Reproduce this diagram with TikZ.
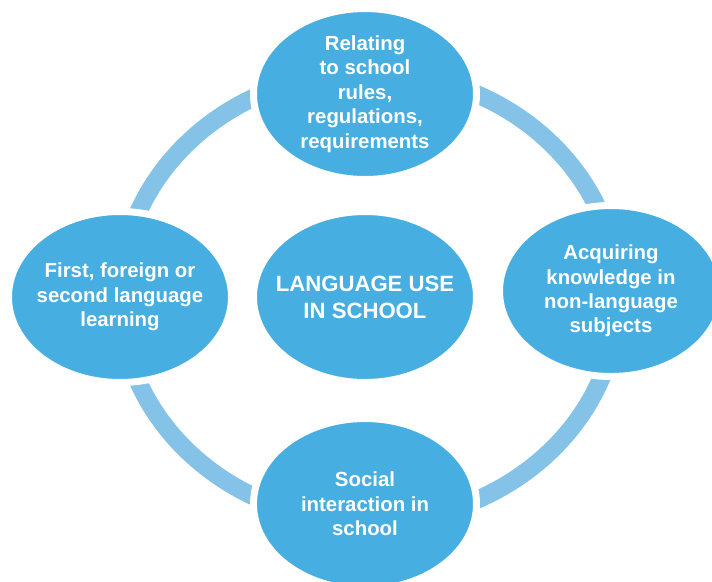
\documentclass[tikz,border=0pt]{standalone}
\usepackage{fontspec}
\setmainfont{Liberation Sans}
\usetikzlibrary{shapes.geometric,backgrounds}
\definecolor{bubbleblue}{RGB}{70,174,224}
\definecolor{ringblue}{RGB}{133,194,232}
\tikzset{
  bubble/.style={ellipse,fill=bubbleblue,draw=white,line width=0.14cm,
    minimum width=4.46cm,minimum height=3.42cm,inner sep=-0.6cm,
    text=white,align=center,font=\bfseries\fontsize{11.6}{13.9}\selectfont},
  hub/.style={bubble,font=\bfseries\fontsize{12.6}{15.3}\selectfont}
}
\begin{document}
\begin{tikzpicture}
\useasboundingbox (-7.3,-5.68) rectangle (6.94,5.94);

\node[hub] (use) at (0,0) {LANGUAGE USE\\IN SCHOOL};
\node[bubble] (rules) at (0,4.06) {Relating\\to school\\rules,\\regulations,\\requirements};
\node[bubble] (knowledge) at (4.92,0.12) {Acquiring\\knowledge in\\non-language\\subjects};
\node[bubble] (social) at (0,-4.14) {Social\\interaction in\\school};
\node[bubble] (learning) at (-4.9,0) {First, foreign or\\second language\\learning};

\begin{scope}[on background layer]
\draw[ringblue,line width=0.36cm] (0.08,0) ellipse (4.98cm and 4.5cm);
\end{scope}
\end{tikzpicture}
\end{document}
